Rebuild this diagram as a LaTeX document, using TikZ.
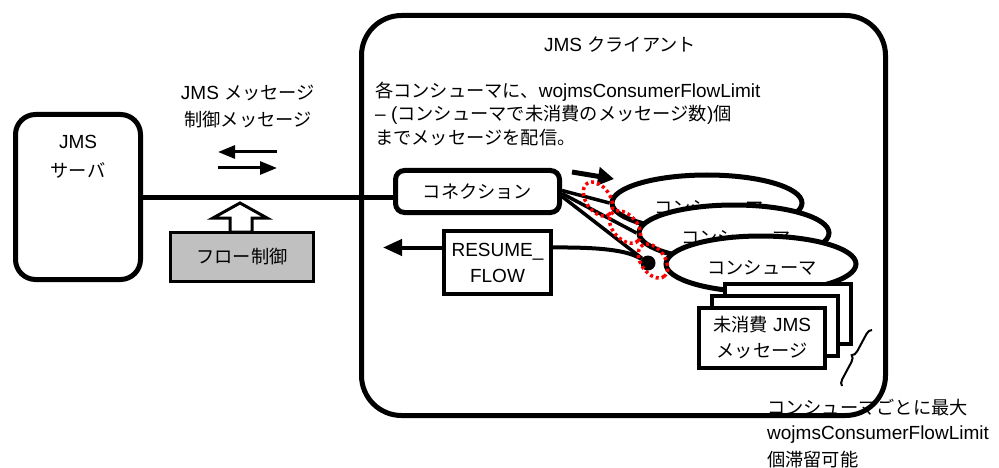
\documentclass[tikz,border=0pt]{standalone}
\usepackage{fontspec}
\setmainfont{Liberation Sans}
\newfontfamily\jp{Noto Sans CJK JP}[Scale=0.96]
\newcommand{\J}[1]{{\jp #1}}
\usetikzlibrary{arrows.meta,shapes.geometric,decorations.pathreplacing,calc,backgrounds}
\definecolor{flowgray}{RGB}{192,192,192}

\begin{document}
\begin{tikzpicture}[x=1pt,y=-1pt,
  every node/.style={font=\fontsize{19}{23}\selectfont, inner sep=0pt},
  panel/.style={draw, line width=5pt},
  cons/.style={draw, ellipse, line width=5pt, fill=white, minimum width=190pt, minimum height=56pt},
  msgbox/.style={draw, line width=4pt, fill=white, minimum width=126pt, minimum height=60pt},
  lefttxt/.style={anchor=west},
  reddot/.style={draw=red, ellipse, line width=3.5pt, dash pattern=on 3pt off 3pt},
  thinarrow/.style={line width=3pt, -{Triangle[length=17pt,width=13pt]}},
  wire/.style={line width=3.5pt}
]
\useasboundingbox (0,0) rectangle (999,468);

% client frame and title
\node[panel, minimum width=524pt, minimum height=400pt, rounded corners=40pt] (client) at (623.5,215.5) {};
\node (clientttl) at (620,45) {JMS \J{クライアント}};
\node[lefttxt] (note1) at (375,92) {\J{各コンシューマに、}wojmsConsumerFlowLimit};
\node[lefttxt] (note2) at (375,115) {– (\J{コンシューマで未消費のメッセージ数})\J{個}};
\node[lefttxt] (note3) at (375,138) {\J{までメッセージを配信。}};

% server
\node[panel, minimum width=125pt, minimum height=165pt, rounded corners=20pt] (srv) at (78,197) {};
\node (srvA) at (78,142) {JMS};
\node (srvB) at (78,170) {\J{サーバ}};

% message labels and direction arrows
\node (msgA) at (248,93) {JMS \J{メッセージ}};
\node (msgB) at (248,120) {\J{制御メッセージ}};
\coordinate (la1) at (277,152); \coordinate (la2) at (218,152);
\coordinate (ra1) at (218,168); \coordinate (ra2) at (277,168);
\draw[thinarrow] (la1) -- (la2);
\draw[thinarrow] (ra1) -- (ra2);

% connection
\node[panel, fill=white, rounded corners=9pt, minimum width=164pt, minimum height=42pt] (conn) at (477.5,191.5) {\J{コネクション}};
\draw[line width=5pt] (srv.east) -- (srv.east -| conn.west);

% flow control
\draw[line width=3pt, fill=white, line join=miter] (240,203) -- (267,218) -- (252,218) -- (252,232) -- (230,232) -- (230,218) -- (213,218) -- cycle;
\node[draw, line width=3pt, fill=flowgray, minimum width=143pt, minimum height=49pt] (flow) at (242,257) {\J{フロー制御}};

% RESUME_FLOW
\node[draw, line width=3.5pt, fill=white, minimum width=107pt, minimum height=63pt, align=center,
  font=\fontsize{19}{26}\selectfont] (res) at (497.5,262.5) {RESUME\_\\FLOW};
\coordinate (resL) at ($(res.west)+(0,-15)$);
\coordinate (resR) at ($(res.east)+(0,-15)$);
\coordinate (resTip) at (383,247.5);
\draw[line width=4pt, -{Triangle[length=19pt,width=16pt]}] (resL) -- (resTip);

% consumers
\node[cons] (e1) at (707,203) {};
\node (t1) at (709,208) {\J{コンシューマ}};
\node[cons] (e2) at (734,233) {};
\node (t2) at (736,238) {\J{コンシューマ}};
\node[cons] (e3) at (761,264) {};
\node (t3) at (762,268) {\J{コンシューマ}};

% unconsumed messages
\node[msgbox] (m3) at (788,314) {};
\node[msgbox] (m2) at (775,325.5) {};
\node[msgbox, align=center, font=\fontsize{19}{26}\selectfont] (m1) at (762,337.5) {\J{未消費} JMS\\\J{メッセージ}};

% delivery dot
\node[circle, fill=black, minimum size=15pt] (dot) at (648,263) {};

% wires from the connection
\begin{scope}[on background layer]
  \draw[wire] ($(conn.east)+(0,-1)$) -- (e1.west);
  \draw[wire] ($(conn.east)+(0,2)$) -- (e2.west);
  \draw[wire] ($(conn.east)+(0,5)$) -- (dot);
  \draw[line width=4pt] (resR) .. controls (610,247) and (630,252) .. (dot);
\end{scope}

% delivery arrow
\coordinate (da1) at (572,172); \coordinate (da2) at (614,179);
\draw[line width=5pt, -{Triangle[length=16pt,width=18pt]}] (da1) -- (da2);

% flow-limit checkpoints
\node[reddot, minimum width=38pt, minimum height=24pt, rotate=-55] (r1) at (598,199) {};
\node[reddot, minimum width=38pt, minimum height=24pt, rotate=-48] (r2) at (625,227) {};
\node[reddot, minimum width=38pt, minimum height=24pt, rotate=-55] (r3) at (653,261) {};

% brace and limit note
\coordinate (brA) at (872,330); \coordinate (brB) at (842,386);
\draw[line width=2pt, decorate, decoration={brace, mirror, amplitude=6pt}] (brA) -- (brB);
\node[lefttxt] (lim1) at (767,408) {\J{コンシューマごとに最大}};
\node[lefttxt] (lim2) at (767,435) {wojmsConsumerFlowLimit};
\node[lefttxt] (lim3) at (767,460) {\J{個滞留可能}};
\end{tikzpicture}
\end{document}
